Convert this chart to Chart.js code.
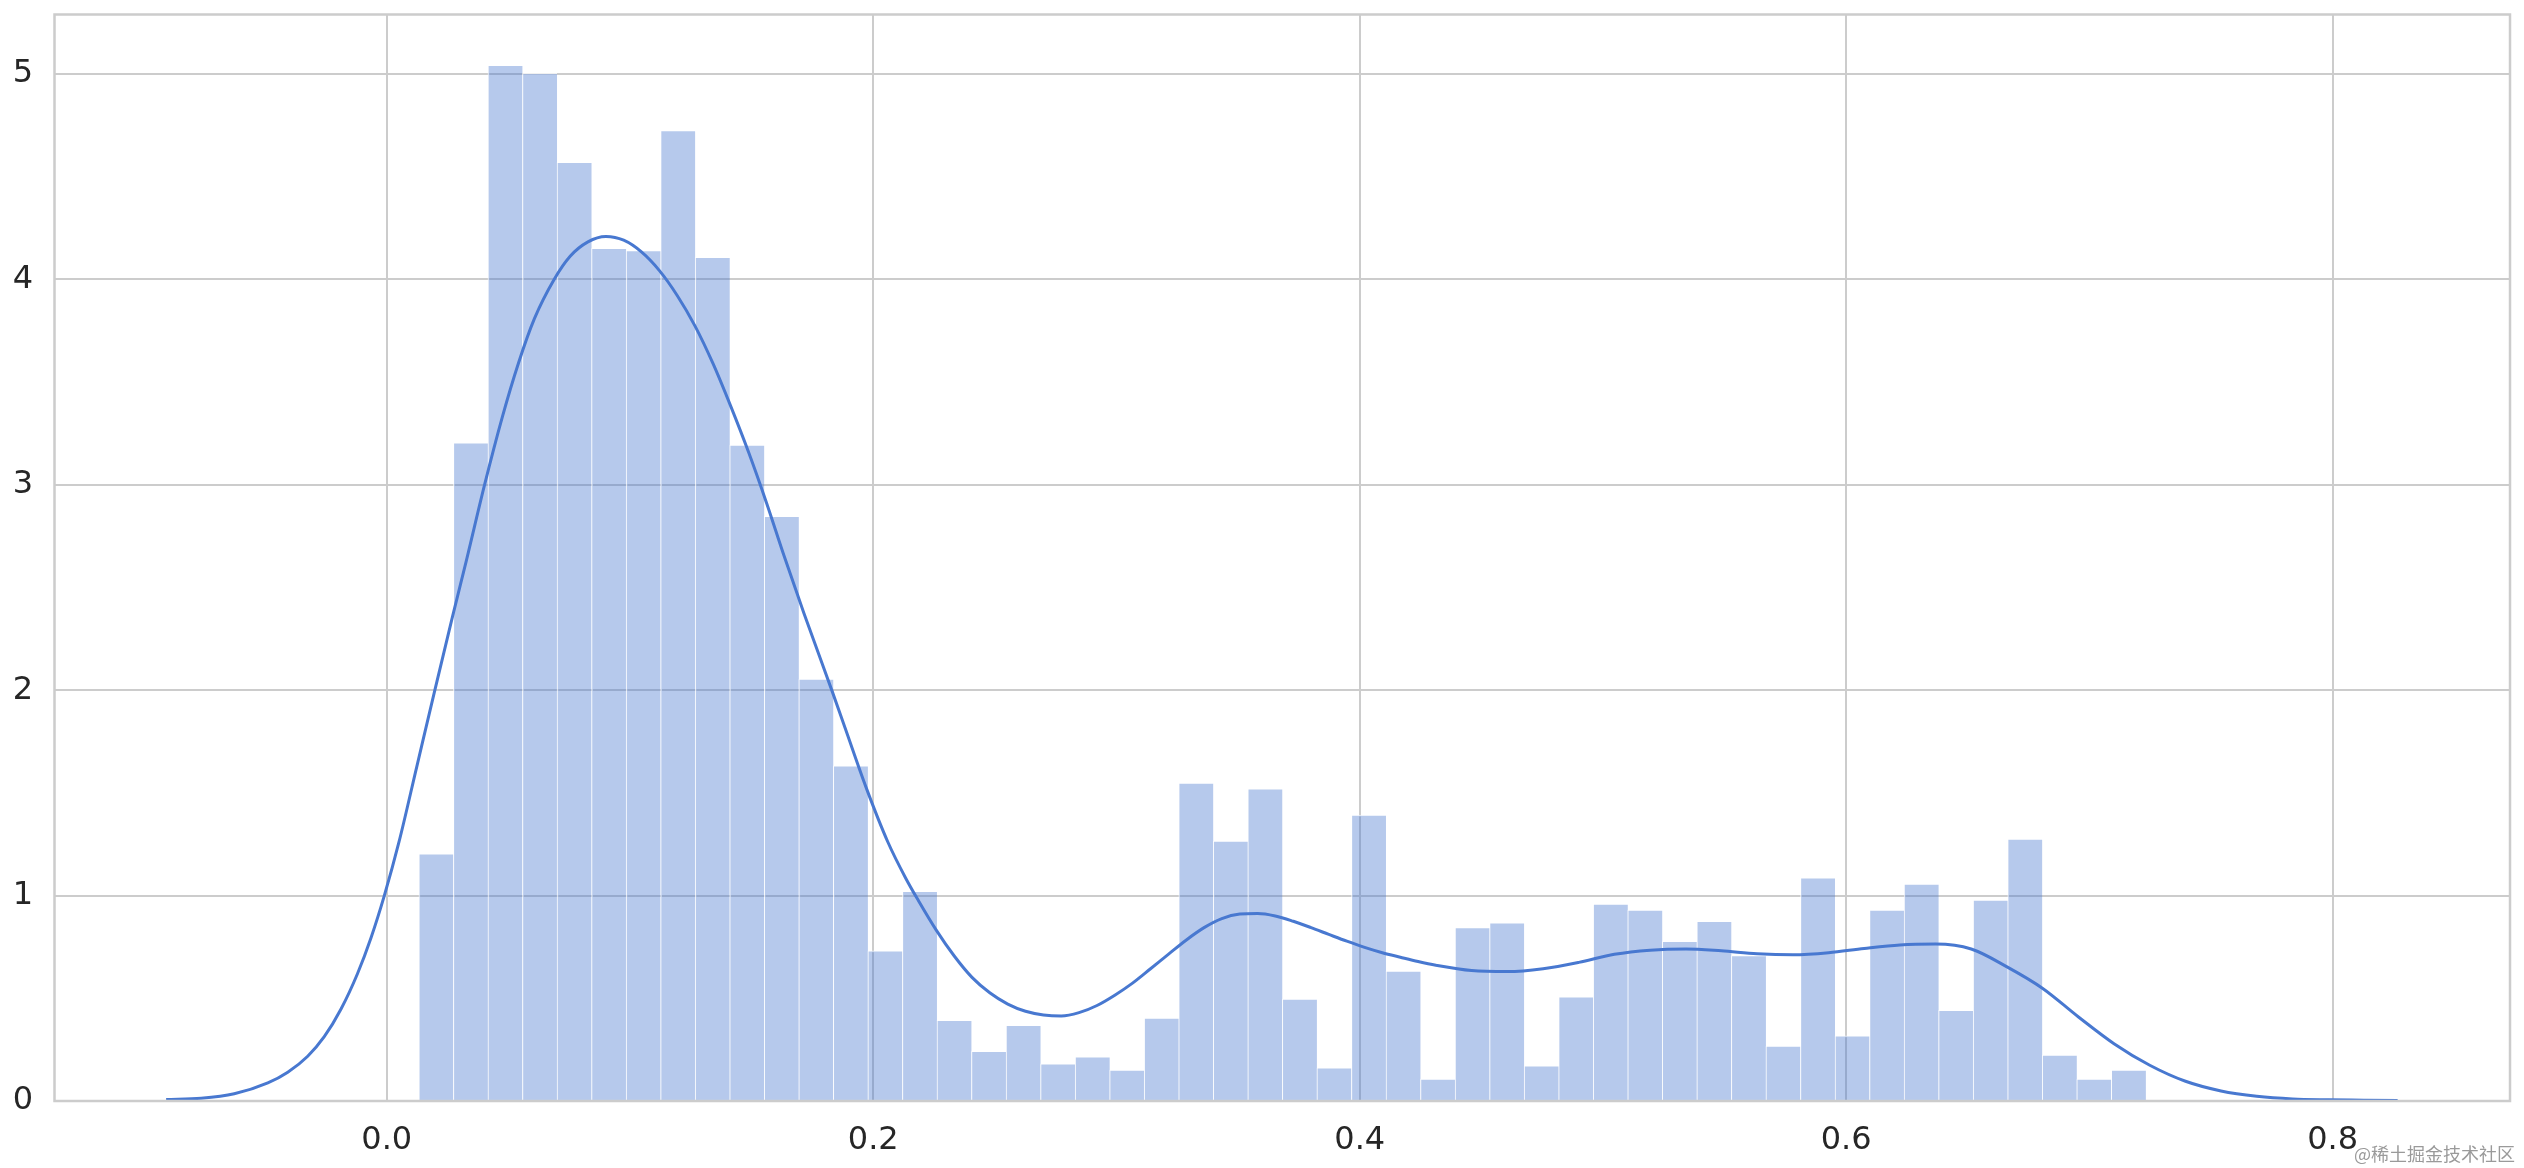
<!DOCTYPE html>
<html>
<head>
<meta charset="utf-8">
<script src="https://cdn.jsdelivr.net/npm/chart.js@4.4.0/dist/chart.umd.min.js"></script>
<style>
  body { margin: 0; background: #fff; }
  #wrap { position: relative; width: 2524px; height: 1168px; }
  #mark {
    position: absolute; right: 9px; bottom: 6px;
    font: 18px "Noto Sans CJK SC"; line-height: 1; color: #9a9a9a;
  }
</style>
</head>
<body>
<div id="wrap">
  <canvas id="myChart"></canvas>
  <div id="mark">@稀土掘金技术社区</div>
</div>
<script>
// histogram : 50 bins, first edge and width
const binStart = 0.0132;
const binWidth = 0.0142;
const binDensity = [
  1.204, 3.204, 5.042, 5.003, 4.570, 4.151, 4.141, 4.725, 4.108, 3.193,
  2.847, 2.054, 1.632, 0.731, 1.021, 0.393, 0.242, 0.369, 0.181, 0.215,
  0.150, 0.404, 1.548, 1.265, 1.520, 0.496, 0.162, 1.392, 0.632, 0.107,
  0.844, 0.868, 0.171, 0.507, 0.959, 0.929, 0.778, 0.875, 0.708, 0.267,
  1.087, 0.317, 0.929, 1.056, 0.441, 0.978, 1.275, 0.223, 0.107, 0.150,
];

// kde curve
const kdeX = [
  -0.0907, -0.0763, -0.0627, -0.0489, -0.0407, -0.0325, -0.0257, -0.0188, -0.0120, -0.0065,
  -0.0010, 0.0050, 0.0123, 0.0196, 0.0270, 0.0328, 0.0402, 0.0475, 0.0541, 0.0607,
  0.0688, 0.0754, 0.0827, 0.0901, 0.0974, 0.1047, 0.1121, 0.1194, 0.1267, 0.1341,
  0.1414, 0.1488, 0.1561, 0.1634, 0.1715, 0.1832, 0.1884, 0.1972, 0.2060, 0.2133,
  0.2186, 0.2259, 0.2333, 0.2406, 0.2479, 0.2553, 0.2626, 0.2700, 0.2773, 0.2846,
  0.2920, 0.2993, 0.3066, 0.3140, 0.3213, 0.3286, 0.3360, 0.3433, 0.3507, 0.3580,
  0.3653, 0.3727, 0.3800, 0.3873, 0.3947, 0.4020, 0.4093, 0.4167, 0.4240, 0.4313,
  0.4460, 0.4607, 0.4754, 0.4901, 0.5047, 0.5194, 0.5341, 0.5487, 0.5634, 0.5781,
  0.5928, 0.6074, 0.6221, 0.6368, 0.6514, 0.6661, 0.6808, 0.6955, 0.7101, 0.7248,
  0.7395, 0.7541, 0.7688, 0.7835, 0.7982, 0.8128, 0.8267,
];
const kdeY = [
  0.007, 0.013, 0.035, 0.088, 0.140, 0.218, 0.313, 0.448, 0.621, 0.794,
  1.000, 1.260, 1.626, 1.992, 2.357, 2.635, 3.000, 3.330, 3.591, 3.809,
  4.000, 4.113, 4.183, 4.209, 4.191, 4.134, 4.043, 3.922, 3.774, 3.591,
  3.383, 3.157, 2.913, 2.652, 2.375, 1.992, 1.817, 1.522, 1.261, 1.086,
  0.975, 0.832, 0.706, 0.602, 0.527, 0.472, 0.437, 0.419, 0.414, 0.430,
  0.465, 0.515, 0.574, 0.644, 0.714, 0.783, 0.844, 0.888, 0.910, 0.913,
  0.901, 0.875, 0.844, 0.811, 0.778, 0.748, 0.722, 0.700, 0.679, 0.661,
  0.635, 0.630, 0.644, 0.675, 0.714, 0.734, 0.740, 0.731, 0.717, 0.712,
  0.722, 0.743, 0.760, 0.764, 0.740, 0.653, 0.548, 0.409, 0.279, 0.174,
  0.096, 0.049, 0.023, 0.010, 0.006, 0.004, 0.002,
];

const xTicks = [0.0, 0.2, 0.4, 0.6, 0.8];
const yTicks = [0, 1, 2, 3, 4, 5];
const xRange = [-0.1366, 0.8729];
const yRange = [0, 5.29];

// draw the grey box around the plot area
const frame = {
  id: "frame",
  afterDraw(chart) {
    const { ctx, chartArea: a } = chart;
    ctx.save();
    ctx.strokeStyle = "#cccccc";
    ctx.lineWidth = 2.5;
    ctx.strokeRect(a.left, a.top, a.right - a.left, a.bottom - a.top);
    ctx.restore();
  },
};

function renderChart() {
  const ctx = document.getElementById("myChart").getContext("2d");

  const bars = binDensity.map((d, i) => ({ x: binStart + (i + 0.5) * binWidth, y: d }));
  const curve = kdeX.map((x, i) => ({ x: x, y: kdeY[i] }));

  const tickFont = { family: "DejaVu Sans", size: 32 };

  new Chart(ctx, {
    type: "bar",
    data: {
      datasets: [
        {
          type: "line",
          data: curve,
          borderColor: "#4878d0",
          borderWidth: 3,
          pointRadius: 0,
          cubicInterpolationMode: "monotone",
          order: 0,
        },
        {
          type: "bar",
          data: bars,
          backgroundColor: "rgba(72, 120, 208, 0.4)",
          borderColor: "rgba(255, 255, 255, 0.7)",
          borderWidth: { top: 1, left: 1, right: 0, bottom: 0 },
          barPercentage: 1,
          categoryPercentage: 1,
          order: 1,
        },
      ],
    },
    options: {
      responsive: true,
      maintainAspectRatio: false,
      animation: false,
      layout: { padding: { left: 0, right: 14, top: 14.5, bottom: 0 } },
      plugins: { legend: { display: false }, tooltip: { enabled: false } },
      scales: {
        x: {
          type: "linear",
          min: xRange[0],
          max: xRange[1],
          offset: false,
          afterBuildTicks: (axis) => { axis.ticks = xTicks.map((v) => ({ value: v })); },
          afterFit: (axis) => {
            axis.height = 67;
            axis.paddingLeft = 0;
            axis.paddingRight = 0;
          },
          ticks: {
            font: tickFont,
            color: "#262626",
            padding: 20,
            maxRotation: 0,
            callback: (v) => Number(v).toFixed(1),
          },
          grid: { color: "#cccccc", lineWidth: 2, drawTicks: false, offset: false },
          border: { display: false },
        },
        y: {
          min: yRange[0],
          max: yRange[1],
          afterBuildTicks: (axis) => { axis.ticks = yTicks.map((v) => ({ value: v })); },
          afterFit: (axis) => {
            axis.width = 54.5;
            axis.paddingTop = 0;
            axis.paddingBottom = 0;
          },
          ticks: {
            font: tickFont,
            color: "#262626",
            padding: 21.5,
            callback: (v) => String(v),
          },
          grid: { color: "#cccccc", lineWidth: 2, drawTicks: false },
          border: { display: false },
        },
      },
    },
    plugins: [frame],
  });
}

renderChart();
</script>
</body>
</html>
